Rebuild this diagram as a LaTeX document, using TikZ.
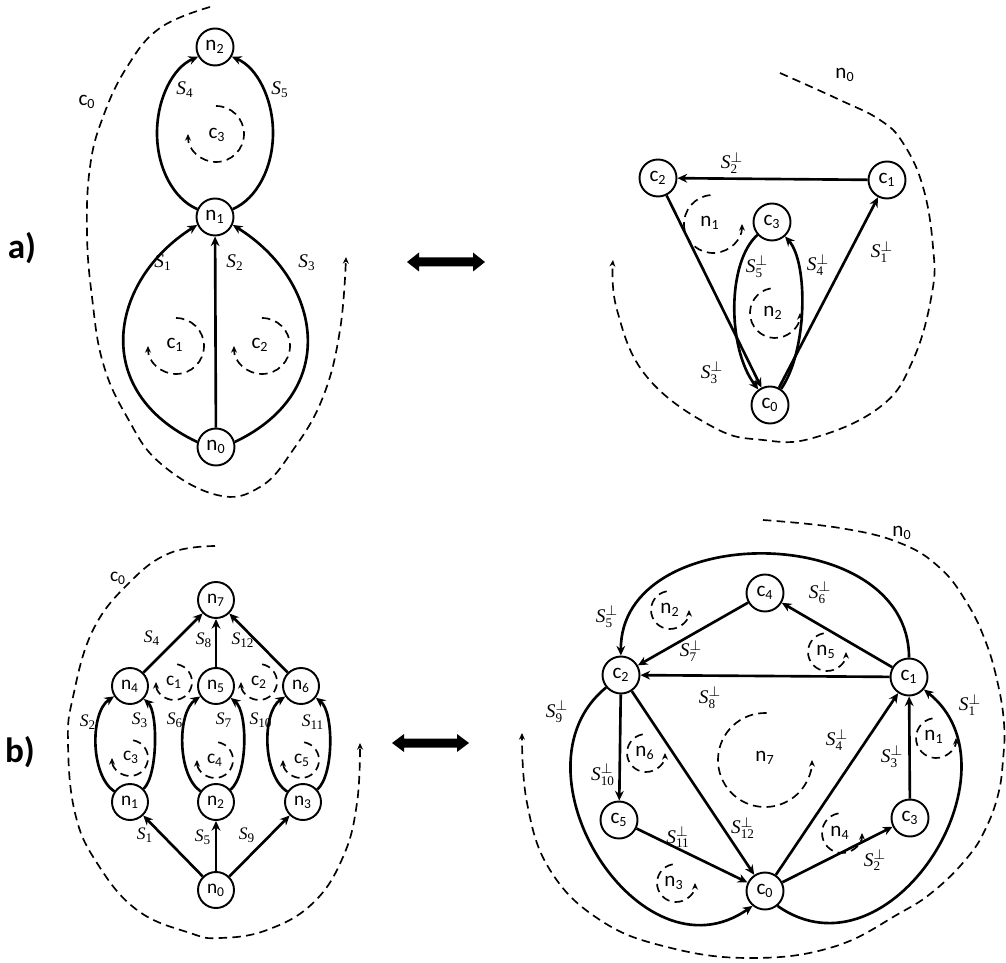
\documentclass[tikz,border=0pt]{standalone}
\usepackage{fontspec}
\setmainfont{Liberation Serif}
\newfontfamily\nodefont{Carlito}
\usetikzlibrary{arrows.meta}
\newcommand\Sx[1]{\textit{S}$_{\mbox{\fontsize{7.5}{8}\selectfont #1}}$}
\newcommand\Sp[1]{\textit{S}$^{\perp}_{\mbox{\fontsize{7.5}{8}\selectfont #1}}$}
\begin{document}
\begin{tikzpicture}[x=0.2mm,y=0.2mm,
  vtx/.style={circle,draw,line width=1.1pt,minimum size=7.4mm,inner sep=0pt,font=\nodefont\fontsize{12}{12}\selectfont},
  svtx/.style={vtx,minimum size=7.2mm,font=\nodefont\fontsize{11}{11}\selectfont},
  edg/.style={line width=1.5pt,-{Stealth[length=5.5pt,width=5pt]}},
  cyc/.style={line width=0.95pt,dash pattern=on 4.8pt off 3pt,-{Stealth[length=3.8pt,width=3.4pt]}},
  lbl/.style={font=\fontsize{11}{11}\selectfont,inner sep=0pt},
  slbl/.style={font=\fontsize{10}{10}\selectfont,inner sep=0pt},
  nlbl/.style={font=\nodefont\fontsize{12}{12}\selectfont,inner sep=0pt},
  snlbl/.style={font=\nodefont\fontsize{11}{11}\selectfont,inner sep=0pt},
  tag/.style={font=\nodefont\bfseries\fontsize{20}{20}\selectfont,inner sep=0pt}]
\useasboundingbox (0,0) rectangle (1006,-963);

% ---------- labels a) b) and double arrows
\node[tag] (ta) at (22,-248) {a)};
\node[tag] (tb) at (20,-752) {b)};
\fill (407,-262) -- (419,-252.5) -- (419,-257.5) -- (473,-257.5) -- (473,-252.5) -- (485,-262)
  -- (473,-271.5) -- (473,-266.5) -- (419,-266.5) -- (419,-271.5) -- cycle;
\fill (392,-743) -- (404,-734) -- (404,-738.5) -- (457,-738.5) -- (457,-734) -- (469,-743)
  -- (457,-752) -- (457,-747.5) -- (404,-747.5) -- (404,-752) -- cycle;

% ---------- a) left
\node[vtx] (an2) at (215,-47) {n\textsubscript{2}};
\node[vtx] (an1) at (215,-217) {n\textsubscript{1}};
\node[vtx] (an0) at (216,-447) {n\textsubscript{0}};
\coordinate (aL) at (157,-133);
\coordinate (aR) at (273,-133);
\draw[edg] (an1.156) .. controls (172.9,-198.6) and (157,-167.3) .. (aL)
  .. controls (157,-98.7) and (172.9,-67.4) .. (an2.210);
\draw[edg] (an1.24) .. controls (257.1,-198.6) and (273,-167.3) .. (aR)
  .. controls (273,-98.7) and (257.1,-67.4) .. (an2.-30);
\draw[edg] (an0.165) .. controls (89,-391) and (110,-280) .. (an1.204);
\draw[edg] (an0.15) .. controls (342,-391) and (321,-280) .. (an1.-24);
\draw[edg] (an0) -- (an1);
\node[lbl] (aS4) at (185,-90) {\Sx{4}};
\node[lbl] (aS5) at (280,-90) {\Sx{5}};
\node[lbl] (aS1) at (163,-263) {\Sx{1}};
\node[lbl] (aS2) at (235,-263) {\Sx{2}};
\node[lbl] (aS3) at (307,-263) {\Sx{3}};
\node[nlbl] (ac0l) at (87,-102) {c\textsubscript{0}};
\node[nlbl] (ac3l) at (217,-135) {c\textsubscript{3}};
\node[nlbl] (ac1l) at (175,-345) {c\textsubscript{1}};
\node[nlbl] (ac2l) at (260,-345) {c\textsubscript{2}};
\draw[cyc] (216,-134) ++(90:28) arc[start angle=90,end angle=-180,radius=28];
\draw[cyc] (176,-346) ++(90:28) arc[start angle=90,end angle=-180,radius=28];
\draw[cyc] (262,-346) ++(90:28) arc[start angle=90,end angle=-180,radius=28];
\draw[cyc] plot[smooth,tension=0.7] coordinates {(210,-7) (160,-28) (127,-67) (103,-117) (90,-167)
  (87,-233) (92,-297) (103,-363) (127,-417) (160,-463) (217,-495) (260,-487) (293,-450)
  (323,-397) (340,-330) (346,-257)};

% ---------- a) right
\node[vtx] (rc2) at (658,-178) {c\textsubscript{2}};
\node[vtx] (rc1) at (887,-180) {c\textsubscript{1}};
\node[vtx] (rc3) at (772,-222) {c\textsubscript{3}};
\node[vtx] (rc0) at (770,-405) {c\textsubscript{0}};
\draw[edg] (rc1) -- (rc2);
\draw[edg] (rc0) -- (rc1);
\draw[edg] (rc2) -- (rc0);
\draw[edg] (rc3) .. controls (727,-262) and (727,-348) .. (rc0);
\draw[edg] (rc0) .. controls (808,-350) and (808,-262) .. (rc3);
\node[lbl] (rS2) at (732,-163) {\Sp{2}};
\node[lbl] (rS1) at (882,-252) {\Sp{1}};
\node[lbl] (rS3) at (712,-373) {\Sp{3}};
\node[lbl] (rS5) at (757,-267) {\Sp{5}};
\node[lbl] (rS4) at (818,-265) {\Sp{4}};
\node[nlbl] (rn0l) at (845,-75) {n\textsubscript{0}};
\node[nlbl] (rn1l) at (710,-223) {n\textsubscript{1}};
\node[nlbl] (rn2l) at (773,-313) {n\textsubscript{2}};
\draw[cyc] (713,-224) ++(95:29) arc[start angle=95,end angle=360,radius=29];
\draw[cyc] (775,-313) ++(100:25) arc[start angle=100,end angle=360,radius=25];
\draw[cyc] plot[smooth,tension=0.7] coordinates {(780,-73) (840,-100) (880,-120) (903,-143)
  (923,-187) (933,-247) (932,-293) (913,-360) (880,-407) (813,-438) (763,-440) (713,-427)
  (647,-377) (617,-310) (613,-260)};

% ---------- b) left
\node[svtx] (bn7) at (216,-600) {n\textsubscript{7}};
\node[svtx] (bn4) at (130,-686) {n\textsubscript{4}};
\node[svtx] (bn5) at (216,-686) {n\textsubscript{5}};
\node[svtx] (bn6) at (301,-686) {n\textsubscript{6}};
\node[svtx] (bn1) at (130,-802) {n\textsubscript{1}};
\node[svtx] (bn2) at (216,-802) {n\textsubscript{2}};
\node[svtx] (bn3) at (303,-802) {n\textsubscript{3}};
\node[svtx] (bn0) at (216,-890) {n\textsubscript{0}};
\draw[edg] (bn0) -- (bn1);
\draw[edg] (bn0) -- (bn2);
\draw[edg] (bn0) -- (bn3);
\draw[edg] (bn4) -- (bn7);
\draw[edg] (bn5) -- (bn7);
\draw[edg] (bn6) -- (bn7);
\draw[edg] (bn1) .. controls (90,-775) and (90,-712) .. (bn4);
\draw[edg] (bn1) .. controls (158,-775) and (158,-712) .. (bn4);
\draw[edg] (bn2) .. controls (177,-775) and (177,-712) .. (bn5);
\draw[edg] (bn2) .. controls (248,-775) and (248,-712) .. (bn5);
\draw[edg] (bn3) .. controls (262,-775) and (262,-712) .. (bn6);
\draw[edg] (bn3) .. controls (334,-775) and (334,-712) .. (bn6);
\node[slbl] (bS4) at (152,-638) {\Sx{4}};
\node[slbl] (bS8) at (204,-640) {\Sx{8}};
\node[slbl] (bS12) at (243,-640) {\Sx{12}};
\node[slbl] (bS2) at (88,-722) {\Sx{2}};
\node[slbl] (bS3) at (140,-720) {\Sx{3}};
\node[slbl] (bS6) at (175,-720) {\Sx{6}};
\node[slbl] (bS7) at (224,-720) {\Sx{7}};
\node[slbl] (bS10) at (261,-720) {\Sx{10}};
\node[slbl] (bS11) at (313,-722) {\Sx{11}};
\node[slbl] (bS1) at (145,-835) {\Sx{1}};
\node[slbl] (bS5) at (203,-837) {\Sx{5}};
\node[slbl] (bS9) at (247,-835) {\Sx{9}};
\node[snlbl] (bc0l) at (118,-578) {c\textsubscript{0}};
\node[snlbl] (bc1l) at (174,-682) {c\textsubscript{1}};
\node[snlbl] (bc2l) at (259,-682) {c\textsubscript{2}};
\node[snlbl] (bc3l) at (131,-757) {c\textsubscript{3}};
\node[snlbl] (bc4l) at (215,-760) {c\textsubscript{4}};
\node[snlbl] (bc5l) at (302,-760) {c\textsubscript{5}};
\draw[cyc] (174,-682) ++(80:18) arc[start angle=80,end angle=-180,radius=18];
\draw[cyc] (259,-682) ++(80:18) arc[start angle=80,end angle=-180,radius=18];
\draw[cyc] (130,-758) ++(80:18) arc[start angle=80,end angle=-180,radius=18];
\draw[cyc] (215,-760) ++(80:18) arc[start angle=80,end angle=-180,radius=18];
\draw[cyc] (301,-760) ++(80:18) arc[start angle=80,end angle=-180,radius=18];
\draw[cyc] plot[smooth,tension=0.7] coordinates {(215,-546) (170,-553) (130,-582) (93,-630)
  (73,-697) (68,-743) (75,-813) (97,-863) (137,-910) (190,-933) (220,-938) (267,-930)
  (313,-903) (343,-857) (357,-803) (360,-743)};

% ---------- b) right
\node[vtx] (sc4) at (765,-593) {c\textsubscript{4}};
\node[vtx] (sc2) at (621,-675) {c\textsubscript{2}};
\node[vtx] (sc1) at (909,-677) {c\textsubscript{1}};
\node[vtx] (sc5) at (619,-820) {c\textsubscript{5}};
\node[vtx] (sc3) at (910,-818) {c\textsubscript{3}};
\node[vtx] (sc0) at (765,-891) {c\textsubscript{0}};
\draw[edg] (sc1) -- (sc4);
\draw[edg] (sc4) -- (sc2);
\draw[edg] (sc1) -- (sc2);
\draw[edg] (sc1) .. controls (909,-520) and (620,-520) .. (sc2);
\draw[edg] (sc2) -- (sc5);
\draw[edg] (sc5) -- (sc0);
\draw[edg] (sc2) -- (sc0);
\draw[edg] (sc0) -- (sc1);
\draw[edg] (sc0) -- (sc3);
\draw[edg] (sc3) -- (sc1);
\draw[edg] (sc2.220) .. controls (505,-770) and (640,-985) .. (sc0.230);
\draw[edg] (sc0.-50) .. controls (890,-985) and (1025,-770) .. (sc1.-40);
\node[lbl] (sS5) at (607,-617) {\Sp{5}};
\node[lbl] (sS6) at (820,-593) {\Sp{6}};
\node[lbl] (sS7) at (691,-651) {\Sp{7}};
\node[lbl] (sS8) at (710,-698) {\Sp{8}};
\node[lbl] (sS9) at (557,-712) {\Sp{9}};
\node[lbl] (sS1) at (970,-705) {\Sp{1}};
\node[lbl] (sS4) at (837,-740) {\Sp{4}};
\node[lbl] (sS3) at (892,-757) {\Sp{3}};
\node[lbl] (sS10) at (603,-775) {\Sp{10}};
\node[lbl] (sS12) at (743,-828) {\Sp{12}};
\node[lbl] (sS11) at (678,-837) {\Sp{11}};
\node[lbl] (sS2) at (875,-860) {\Sp{2}};
\node[nlbl] (sn0l) at (902,-533) {n\textsubscript{0}};
\node[nlbl] (sn2l) at (670,-610) {n\textsubscript{2}};
\node[nlbl] (sn5l) at (826,-652) {n\textsubscript{5}};
\node[nlbl] (sn7l) at (765,-758) {n\textsubscript{7}};
\node[nlbl] (sn6l) at (645,-753) {n\textsubscript{6}};
\node[nlbl] (sn3l) at (674,-883) {n\textsubscript{3}};
\node[nlbl] (sn4l) at (840,-833) {n\textsubscript{4}};
\node[nlbl] (sn1l) at (934,-737) {n\textsubscript{1}};
\draw[cyc] (670,-610) ++(100:19) arc[start angle=100,end angle=360,radius=19];
\draw[cyc] (827,-652) ++(100:19) arc[start angle=100,end angle=360,radius=19];
\draw[cyc] (765,-760) ++(88:47) arc[start angle=88,end angle=360,radius=47];
\draw[cyc] (646,-753) ++(100:19) arc[start angle=100,end angle=360,radius=19];
\draw[cyc] (676,-883) ++(100:19) arc[start angle=100,end angle=360,radius=19];
\draw[cyc] (842,-833) ++(100:20) arc[start angle=100,end angle=360,radius=20];
\draw[cyc] (936,-738) ++(100:20) arc[start angle=100,end angle=360,radius=20];
\draw[cyc] plot[smooth,tension=0.7] coordinates {(763,-520) (840,-528) (900,-543) (940,-568)
  (967,-603) (985,-640) (997,-680) (1004,-723) (1003,-760) (998,-795) (985,-830) (967,-858)
  (935,-890) (900,-913) (833,-947) (750,-958) (667,-947) (600,-920) (550,-870) (527,-803)
  (522,-733)};
\end{tikzpicture}
\end{document}
